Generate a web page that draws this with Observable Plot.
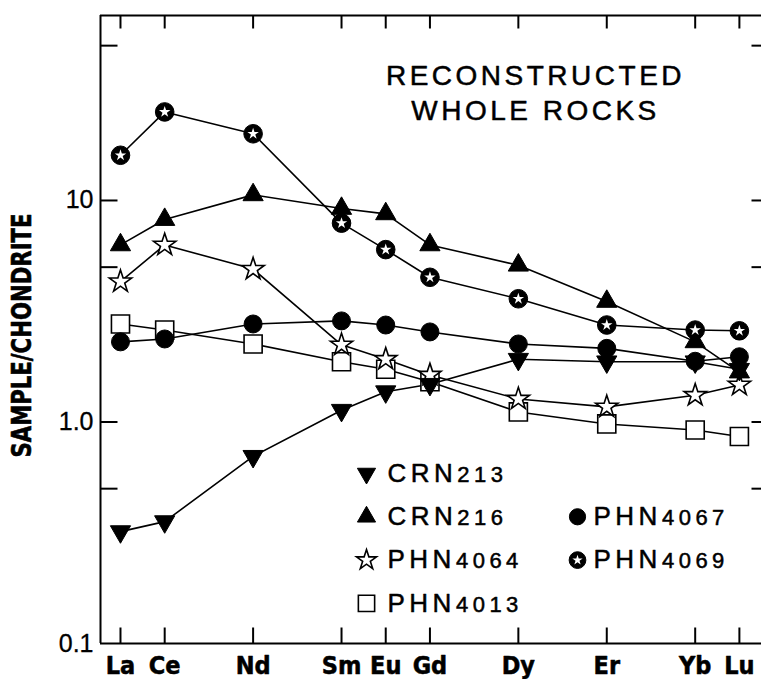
<!DOCTYPE html>
<html><head><meta charset="utf-8">
<script src="https://cdn.jsdelivr.net/npm/d3@7"></script>
<script src="https://cdn.jsdelivr.net/npm/@observablehq/plot@0.6"></script>
<style>
html,body{margin:0;padding:0;background:#fff;}
#chart svg{display:block;}
</style></head><body><div id="chart"></div>
<script>
// ---------- data ----------
const elements = ["La","Ce","Nd","Sm","Eu","Gd","Dy","Er","Yb","Lu"];
const atomicNumbers = [57,58,60,62,63,64,66,68,70,71];
const seriesNames = ["PHN4013","PHN4064","CRN213","PHN4067","CRN216","PHN4069"];
const CRN213  = [0.32, 0.355, 0.70, 1.13, 1.37, 1.48, 1.92, 1.87, 1.87, 1.73];
const CRN216  = [6.3, 8.2, 10.6, 9.2, 8.7, 6.3, 5.1, 3.5, 2.3, 1.68];
const PHN4064 = [4.3, 6.3, 4.9, 2.23, 1.92, 1.63, 1.27, 1.17, 1.32, 1.47];
const PHN4013 = [2.77, 2.6, 2.25, 1.87, 1.73, 1.52, 1.11, 0.98, 0.92, 0.86];
const PHN4067 = [2.3, 2.37, 2.77, 2.86, 2.74, 2.55, 2.25, 2.15, 1.88, 1.97];
const PHN4069 = [16.0, 25.1, 20.0, 7.9, 6.0, 4.5, 3.6, 2.74, 2.6, 2.58];
const yTickValues = [0.5, 1, 5, 10, 50];
const yLabelValues = [0.1, 1, 10];
const yLabelText = ["0.1", "1.0", "10"];
const titleLines = ["RECONSTRUCTED", "WHOLE ROCKS"];
const yAxisLabel = "SAMPLE/CHONDRITE";
const legendOrder = ["CRN213","CRN216","PHN4064","PHN4013","PHN4067","PHN4069"];
const legendCol = [0,0,0,0,1,1];
const legendRow = [0,1,2,3,1,2];

// ---------- build table ----------
const seriesData = {CRN213, CRN216, PHN4064, PHN4013, PHN4067, PHN4069};
const rows = seriesNames.flatMap(name => seriesData[name].map((v, i) => ({
  sample: name, element: elements[i], z: atomicNumbers[i], v
})));
const elementRows = elements.map((e, i) => ({element: e, z: atomicNumbers[i]}));

// ---------- symbols ----------
const triangleDown = {draw(ctx, size) {
  const y = -Math.sqrt(size / (Math.sqrt(3) * 3));
  ctx.moveTo(0, -2 * y);
  ctx.lineTo(-Math.sqrt(3) * y, y);
  ctx.lineTo(Math.sqrt(3) * y, y);
  ctx.closePath();
}};
const tick = (dx, dy) => ({draw(ctx) { ctx.moveTo(0, 0); ctx.lineTo(dx, dy); }});

const symbolStyles = {
  CRN213:  [{symbol: triangleDown, fill: "black", stroke: "black", strokeWidth: 1, r: 7.5}],
  CRN216:  [{symbol: "triangle", fill: "black", stroke: "black", strokeWidth: 1, r: 7.5}],
  PHN4064: [{symbol: "star", fill: "white", stroke: "black", strokeWidth: 1.6, r: 7}],
  PHN4013: [{symbol: "square", fill: "white", stroke: "black", strokeWidth: 1.6, r: 10.2}],
  PHN4067: [{symbol: "circle", fill: "black", stroke: "black", strokeWidth: 1, r: 9}],
  PHN4069: [{symbol: "circle", fill: "black", stroke: "black", strokeWidth: 1, r: 9.3},
            {symbol: "star", fill: "white", stroke: "none", r: 3.6}]
};

const thinFont = "'Liberation Sans', Arial, sans-serif";
const boldFont = "'Liberation Sans Narrow', 'DejaVu Sans Condensed', 'Arial Narrow', sans-serif";

const xDomain = [56.548, 71.5];
const yDomain = [0.1, 68.4];

const marks = [];
// frame (left, top, bottom)
marks.push(Plot.ruleX([xDomain[0]], {stroke: "black", strokeWidth: 2}));
marks.push(Plot.ruleY([yDomain[0]], {stroke: "black", strokeWidth: 2}));
marks.push(Plot.ruleY([yDomain[1]], {stroke: "black", strokeWidth: 2}));
// inward ticks
marks.push(Plot.dot(elementRows, {x: "z", frameAnchor: "bottom", symbol: tick(0, -16), fill: "none", stroke: "black", strokeWidth: 2}));
marks.push(Plot.dot(elementRows, {x: "z", frameAnchor: "top", symbol: tick(0, 13), fill: "none", stroke: "black", strokeWidth: 2}));
marks.push(Plot.dot(yTickValues, {y: d => d, frameAnchor: "left", symbol: tick(17, 0), fill: "none", stroke: "black", strokeWidth: 2}));
marks.push(Plot.dot(yTickValues, {y: d => d, frameAnchor: "right", symbol: tick(-10, 0), fill: "none", stroke: "black", strokeWidth: 2}));
// tick labels
marks.push(Plot.text(yLabelValues, {y: d => d, frameAnchor: "left", text: (d, i) => yLabelText[i], textAnchor: "end", lineAnchor: "middle", dx: -7, fontSize: 25, fontFamily: thinFont, fill: "black", stroke: "black", strokeWidth: 0.3}));
marks.push(Plot.text(elementRows, {x: "z", frameAnchor: "bottom", text: "element", lineAnchor: "middle", dy: 22, fontSize: 25, fontWeight: "bold", fontFamily: boldFont, fill: "black", stroke: "black", strokeWidth: 0.5}));
marks.push(Plot.text([yAxisLabel], {frameAnchor: "left", rotate: -90, textAnchor: "middle", lineAnchor: "middle", dx: -78, dy: 6, fontSize: 27, fontWeight: "bold", fontFamily: boldFont, fill: "black", stroke: "black", strokeWidth: 0.6}));
// title
titleLines.forEach((t, i) => {
  marks.push(Plot.text([t], {frameAnchor: "top-left", dx: 435, dy: 61 + i * 35, lineAnchor: "middle", fontSize: 28, fontFamily: thinFont, fill: "black", stroke: "black", strokeWidth: 0.5, textAnchor: "middle"}));
});
// lines
marks.push(Plot.line(rows, {x: "z", y: "v", z: "sample", stroke: "black", strokeWidth: 1.6}));
// markers
seriesNames.forEach(name => {
  const data = rows.filter(d => d.sample === name);
  symbolStyles[name].forEach(s => marks.push(Plot.dot(data, {x: "z", y: "v", ...s})));
});
// legend
const colSym = [266, 477], colText = [287, 493];
legendOrder.forEach((name, i) => {
  const c = legendCol[i], r = legendRow[i];
  const dy = 458 + r * 43.3;
  symbolStyles[name].forEach(s => marks.push(Plot.dot([name], {frameAnchor: "top-left", dx: colSym[c], dy, ...s, r: s.r * 0.9})));
  marks.push(Plot.text([name], {frameAnchor: "top-left", dx: colText[c], dy, text: d => d, textAnchor: "start", lineAnchor: "middle", fontSize: 26, fontFamily: thinFont, fill: "black", stroke: "black", strokeWidth: 0.5}));
});

const chart = Plot.plot({
  width: 761, height: 679,
  marginLeft: 100, marginRight: 0, marginTop: 15, marginBottom: 36,
  x: {domain: xDomain, axis: null},
  y: {type: "log", domain: yDomain, axis: null},
  style: {background: "white", color: "black", overflow: "visible"},
  marks
});

// letter spacing and smaller digits for the light lettering
chart.querySelectorAll("text").forEach(t => {
  const s = t.textContent;
  if (titleLines.includes(s)) t.style.letterSpacing = "3.5px";
  else if (s === yAxisLabel) {
    t.setAttribute("textLength", "244");
    t.setAttribute("lengthAdjust", "spacingAndGlyphs");
  }
  else if (legendOrder.includes(s)) {
    t.style.letterSpacing = "4.5px";
    const m = s.match(/^([A-Z]+)(\d+)$/);
    if (m) {
      t.textContent = "";
      const a = document.createElementNS("http://www.w3.org/2000/svg", "tspan");
      a.textContent = m[1];
      const b = document.createElementNS("http://www.w3.org/2000/svg", "tspan");
      b.textContent = m[2];
      b.setAttribute("font-size", "22");
      t.appendChild(a); t.appendChild(b);
    }
  }
});
document.getElementById("chart").appendChild(chart);
</script></body></html>
